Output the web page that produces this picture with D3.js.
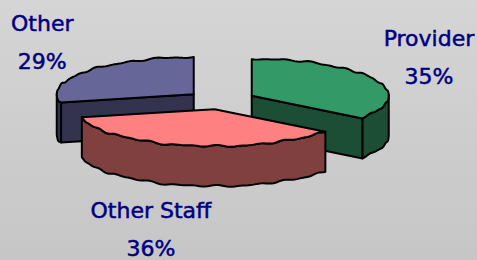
<!DOCTYPE html>
<html>
<head>
<meta charset="utf-8">
<script src="https://cdn.jsdelivr.net/npm/d3@7"></script>
<style>
  html, body { margin: 0; padding: 0; }
  body { width: 477px; height: 260px; overflow: hidden; }
</style>
</head>
<body>
<svg id="chart" width="477" height="260"></svg>
<script>
// Chart data
const categories = ['Provider', 'Other Staff', 'Other'];
const values = [35, 36, 29];
const pctLabels = ['35%', '36%', '29%'];

// Slice colours (top face, side walls)
const topColors = ['#339966', '#ff8080', '#666699'];
const sideColors = ['#1c4d35', '#804040', '#33334f'];

const width = 477, height = 260;
const cx = 221, cy = 100;     // pie centre
const rx = 137, ry = 37;      // ellipse radii
const depth = 40;             // thickness
const explode = 34.5;         // explode distance
const labelRx = 230, labelRy = 95;
const labelShift = [0, -30, 0]; // excel best-fit nudges

const svg = d3.select('#chart');

// background gradient
const defs = svg.append('defs');
const grad = defs.append('linearGradient')
  .attr('id', 'bg')
  .attr('x1', 0).attr('y1', 0).attr('x2', 0).attr('y2', 1);
grad.append('stop').attr('offset', '0%').attr('stop-color', '#d5d5d5');
grad.append('stop').attr('offset', '100%').attr('stop-color', '#c6c6c6');

svg.append('rect')
  .attr('width', width)
  .attr('height', height)
  .attr('fill', 'url(#bg)');

const pie = d3.pie().sort(null).startAngle(0).endAngle(2 * Math.PI).value(d => d);
const arcs = pie(values).map((a, i) => {
  const mid = (a.startAngle + a.endAngle) / 2;
  return {
    ...a,
    i: i,
    mid: mid,
    ox: cx + explode * Math.sin(mid),
    oy: cy - explode * (ry / rx) * Math.cos(mid)
  };
});

// hand drawn wobble on the rim
function wob(t) {
  return 0.55 * Math.sin(t * 23.7) + 0.45 * Math.sin(t * 37.3 + 1.3) + 0.3 * Math.sin(t * 11.1 + 0.4);
}

function rimPoint(d, t, z) {
  return [d.ox + rx * Math.sin(t), d.oy - ry * Math.cos(t) + z + wob(t)];
}

function rimPoints(d, a0, a1, z) {
  const n = Math.max(2, Math.ceil((a1 - a0) / 0.02));
  const pts = [];
  for (let k = 0; k <= n; k++) {
    const t = a0 + (a1 - a0) * k / n;
    pts.push(rimPoint(d, t, z));
  }
  return pts;
}

const line = d3.line();

function topPath(d) {
  const pts = [[d.ox, d.oy]].concat(rimPoints(d, d.startAngle, d.endAngle, 0));
  return line(pts) + 'Z';
}

function radialWall(d, t) {
  const p = rimPoint(d, t, 0);
  const q = rimPoint(d, t, depth);
  return line([[d.ox, d.oy], p, q, [d.ox, d.oy + depth]]) + 'Z';
}

function outerWall(d, a0, a1) {
  const top = rimPoints(d, a0, a1, 0);
  const bot = rimPoints(d, a0, a1, depth).reverse();
  return line(top.concat(bot)) + 'Z';
}

// draw back slices first
const order = arcs.slice().sort((a, b) => a.oy - b.oy);

const g = svg.append('g')
  .attr('stroke', '#000')
  .attr('stroke-width', 2)
  .attr('stroke-linejoin', 'round');

order.forEach(d => {
  const sg = g.append('g');
  // radial walls are visible when their normal points to the front
  if (Math.cos(d.endAngle + Math.PI / 2) < 0) {
    sg.append('path').attr('d', radialWall(d, d.endAngle)).attr('fill', sideColors[d.i]);
  }
  if (Math.cos(d.startAngle - Math.PI / 2) < 0) {
    sg.append('path').attr('d', radialWall(d, d.startAngle)).attr('fill', sideColors[d.i]);
  }
  const a0 = Math.max(d.startAngle, Math.PI / 2);
  const a1 = Math.min(d.endAngle, 3 * Math.PI / 2);
  if (a1 > a0) {
    sg.append('path').attr('d', outerWall(d, a0, a1)).attr('fill', sideColors[d.i]);
  }
  sg.append('path').attr('d', topPath(d)).attr('fill', topColors[d.i]);
});

// labels
const labelG = svg.append('g')
  .attr('font-family', "'Comic Sans MS', 'DejaVu Sans', sans-serif")
  .attr('font-size', 22)
  .attr('fill', '#000080')
  .attr('stroke', '#000080')
  .attr('stroke-width', 0.5)
  .attr('text-anchor', 'middle');

arcs.forEach(d => {
  const c = Math.cos(d.mid);
  const x = cx + 3 + labelRx * Math.sin(d.mid) + labelShift[d.i];
  const yc = cy - labelRy * c + (c < 0 ? depth * -c * 0.9 : 0);
  labelG.append('text').attr('x', x).attr('y', yc - 11).text(categories[d.i]);
  labelG.append('text').attr('x', x).attr('y', yc + 27).text(pctLabels[d.i]);
});
</script>
</body>
</html>
